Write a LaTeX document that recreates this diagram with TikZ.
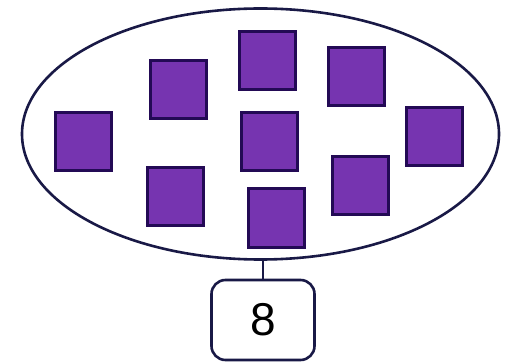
\documentclass[tikz,border=0pt]{standalone}
\usepackage{fontspec}
\setmainfont{Liberation Sans}
\usetikzlibrary{shapes.geometric}
\definecolor{inkline}{RGB}{25,25,70}
\definecolor{sqfill}{RGB}{118,52,176}
\definecolor{sqedge}{RGB}{35,10,85}
\begin{document}
\begin{tikzpicture}[x=1pt,y=-1pt,
  sq/.style={draw=sqedge,line width=3pt,fill=sqfill,minimum width=56pt,minimum height=58pt,inner sep=0pt},
  set/.style={draw=inkline,line width=2.6pt,ellipse,minimum width=477pt,minimum height=251pt,inner sep=0pt},
  numbox/.style={draw=inkline,line width=2.6pt,rounded corners=14pt,minimum width=103pt,minimum height=80pt,inner sep=0pt,font=\fontsize{46}{46}\selectfont}]
\useasboundingbox (0,0) rectangle (524,363);
\fill[white] (0,0) rectangle (524,363);
\node[set] (ell) at (260.5,134) {};
\node[sq] (s1) at (83.5,142) {};
\node[sq] (s2) at (178,89.5) {};
\node[sq] (s3) at (267,60.5) {};
\node[sq] (s4) at (356,77) {};
\node[sq] (s5) at (269,142) {};
\node[sq] (s6) at (434,137) {};
\node[sq] (s7) at (175,197) {};
\node[sq] (s8) at (276,218) {};
\node[sq] (s9) at (360,186) {};
\node[numbox] (n) at (263,320) {8};
\draw[inkline,line width=2.6pt] (n.north) -- (n.north |- ell.south);
\end{tikzpicture}
\end{document}
